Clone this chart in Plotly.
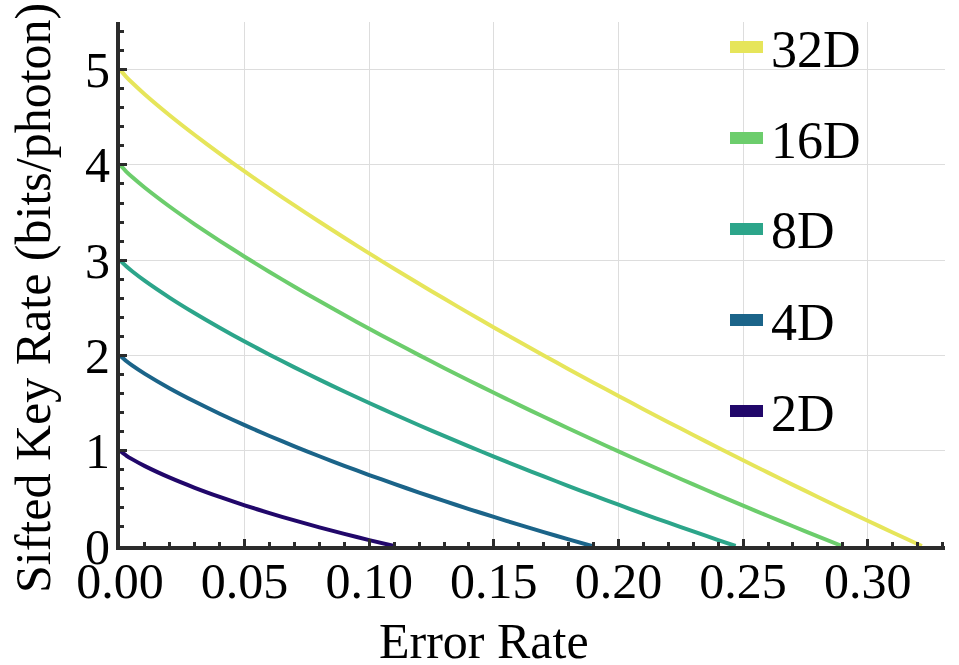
import plotly.graph_objects as go

# ---- data ----
series_names = ["2D", "4D", "8D", "16D", "32D"]
series_colors = ["#21076a", "#1b6489", "#2ca58a", "#6ccd6c", "#e6e55a"]

error_2d = [0, 0.0025, 0.005, 0.01, 0.02, 0.03, 0.04, 0.05, 0.06, 0.07, 0.08, 0.09, 0.10, 0.110]
rate_2d = [1.0, 0.9496, 0.9092, 0.8384, 0.7171, 0.6112, 0.5154, 0.4272, 0.3451, 0.2682, 0.1956, 0.1271, 0.0620, 0.0]

error_4d = [0, 0.0025, 0.005, 0.01, 0.02, 0.03, 0.04, 0.05, 0.06, 0.07, 0.08, 0.09, 0.10,
            0.11, 0.12, 0.13, 0.14, 0.15, 0.16, 0.17, 0.18, 0.1893]
rate_4d = [2.0, 1.9417, 1.8933, 1.8067, 1.6537, 1.5161, 1.3886, 1.2687, 1.1549, 1.0463, 0.9420, 0.8418, 0.7450,
           0.6515, 0.5609, 0.4730, 0.3877, 0.3048, 0.2242, 0.1457, 0.0693, 0.0]

error_8d = [0, 0.0025, 0.005, 0.01, 0.02, 0.03, 0.04, 0.05, 0.06, 0.07, 0.08, 0.09, 0.10,
            0.11, 0.12, 0.13, 0.14, 0.15, 0.16, 0.17, 0.18, 0.19, 0.20, 0.21, 0.22, 0.23, 0.24, 0.2470]
rate_8d = [3.0, 2.9355, 2.8811, 2.7823, 2.6048, 2.4428, 2.2908, 2.1465, 2.0082, 1.8751, 1.7465, 1.6217, 1.5005,
           1.3825, 1.2675, 1.1552, 1.0455, 0.9381, 0.8330, 0.7301, 0.6292, 0.5303, 0.4332, 0.3380, 0.2444,
           0.1526, 0.0624, 0.0]

error_16d = [0, 0.0025, 0.005, 0.01, 0.02, 0.03, 0.04, 0.05, 0.06, 0.07, 0.08, 0.09, 0.10,
             0.11, 0.12, 0.13, 0.14, 0.15, 0.16, 0.17, 0.18, 0.19, 0.20, 0.21, 0.22, 0.23, 0.24,
             0.25, 0.26, 0.27, 0.28, 0.2897]
rate_16d = [4.0, 3.9300, 3.8701, 3.7603, 3.5608, 3.3768, 3.2029, 3.0365, 2.8763, 2.7212, 2.5705, 2.4238, 2.2806,
            2.1406, 2.0036, 1.8693, 1.7376, 1.6083, 1.4812, 1.3562, 1.2334, 1.1124, 0.9934, 0.8762, 0.7607,
            0.6468, 0.5346, 0.4240, 0.3149, 0.2073, 0.1012, 0.0]

error_32d = [0, 0.0025, 0.005, 0.01, 0.02, 0.03, 0.04, 0.05, 0.06, 0.07, 0.08, 0.09, 0.10,
             0.11, 0.12, 0.13, 0.14, 0.15, 0.16, 0.17, 0.18, 0.19, 0.20, 0.21, 0.22, 0.23, 0.24,
             0.25, 0.26, 0.27, 0.28, 0.29, 0.30, 0.31, 0.32, 0.3217]
rate_32d = [5.0, 4.9248, 4.8596, 4.7393, 4.5190, 4.3140, 4.1191, 3.9318, 3.7506, 3.5746, 3.4030, 3.2353, 3.0712,
            2.9102, 2.7523, 2.5970, 2.4443, 2.2941, 2.1460, 2.0002, 1.8564, 1.7145, 1.5745, 1.4363, 1.2998,
            1.1651, 1.0319, 0.9003, 0.7703, 0.6418, 0.5147, 0.3891, 0.2649, 0.1420, 0.0205, 0.0]

x_ticks = [0.00, 0.05, 0.10, 0.15, 0.20, 0.25, 0.30]
x_tick_labels = ["0.00", "0.05", "0.10", "0.15", "0.20", "0.25", "0.30"]
y_ticks = [0, 1, 2, 3, 4, 5]
y_tick_labels = ["0", "1", "2", "3", "4", "5"]

x_title = "Error Rate"
y_title = "Sifted Key Rate (bits/photon)"

xs = [error_2d, error_4d, error_8d, error_16d, error_32d]
ys = [rate_2d, rate_4d, rate_8d, rate_16d, rate_32d]

FONT = "Liberation Serif, Times New Roman, serif"
W, H = 959, 665
ML, MR, MT, MB = 120, 14, 22, 119
PW, PH = W - ML - MR, H - MT - MB


def px_to_paper_x(px):
    return (px - ML) / PW


def px_to_paper_y(py):
    return (H - MB - py) / PH


fig = go.Figure()
for name, color, x, y in zip(series_names, series_colors, xs, ys):
    fig.add_trace(go.Scatter(x=x, y=y, mode="lines", name=name,
                             line=dict(color=color, width=4, shape="spline", smoothing=0.6),
                             showlegend=False, hoverinfo="skip"))

# manual legend (32D on top), thick colour swatches like the reference
shapes = []
annotations = []
legend_top_px, legend_step_px = 47, 91
for i, (name, color) in enumerate(list(zip(series_names, series_colors))[::-1]):
    cy = legend_top_px + i * legend_step_px
    shapes.append(dict(type="rect", xref="paper", yref="paper",
                       x0=px_to_paper_x(730), x1=px_to_paper_x(763),
                       y0=px_to_paper_y(cy + 6), y1=px_to_paper_y(cy - 6),
                       fillcolor=color, line=dict(width=0), layer="above"))
    annotations.append(dict(text=name, xref="paper", yref="paper",
                            x=px_to_paper_x(769), y=px_to_paper_y(cy + 2),
                            xanchor="left", yanchor="middle", showarrow=False,
                            font=dict(family=FONT, size=52, color="black")))

annotations += [
    dict(text=x_title, xref="paper", yref="paper", x=px_to_paper_x(484), y=px_to_paper_y(641),
         xanchor="center", yanchor="middle", showarrow=False,
         font=dict(family=FONT, size=50, color="black")),
    dict(text=y_title, xref="paper", yref="paper", x=px_to_paper_x(33), y=px_to_paper_y(298),
         xanchor="center", yanchor="middle", showarrow=False, textangle=-90,
         font=dict(family=FONT, size=50, color="black")),
]

fig.update_layout(
    width=W, height=H,
    margin=dict(l=ML, r=MR, t=MT, b=MB, autoexpand=False),
    paper_bgcolor="white", plot_bgcolor="white",
    font=dict(family=FONT, size=50, color="black"),
    showlegend=False,
    xaxis=dict(range=[0, 0.331], tickmode="array", tickvals=x_ticks, ticktext=x_tick_labels,
               showgrid=True, gridcolor="#dddddd", gridwidth=1, zeroline=False,
               showline=True, linecolor="#2b2b2b", linewidth=4,
               ticks="inside", ticklen=7, tickwidth=3, tickcolor="#2b2b2b",
               ticklabelstandoff=-12,
               minor=dict(dtick=0.01, tick0=0, ticks="inside", ticklen=4, tickwidth=3,
                          tickcolor="#2b2b2b", showgrid=False),
               tickfont=dict(family=FONT, size=50, color="black")),
    yaxis=dict(range=[0, 5.5], tickmode="array", tickvals=y_ticks, ticktext=y_tick_labels,
               showgrid=True, gridcolor="#dddddd", gridwidth=1, zeroline=False,
               showline=True, linecolor="#2b2b2b", linewidth=4,
               ticks="inside", ticklen=7, tickwidth=3, tickcolor="#2b2b2b",
               ticklabelstandoff=-4,
               minor=dict(dtick=0.2, tick0=0, ticks="inside", ticklen=4, tickwidth=3,
                          tickcolor="#2b2b2b", showgrid=False),
               tickfont=dict(family=FONT, size=50, color="black")),
    shapes=shapes,
    annotations=annotations,
)

fig.write_html("out.html", config={"displayModeBar": False},
               post_script="document.body.style.margin='0';document.body.style.overflow='hidden';")
